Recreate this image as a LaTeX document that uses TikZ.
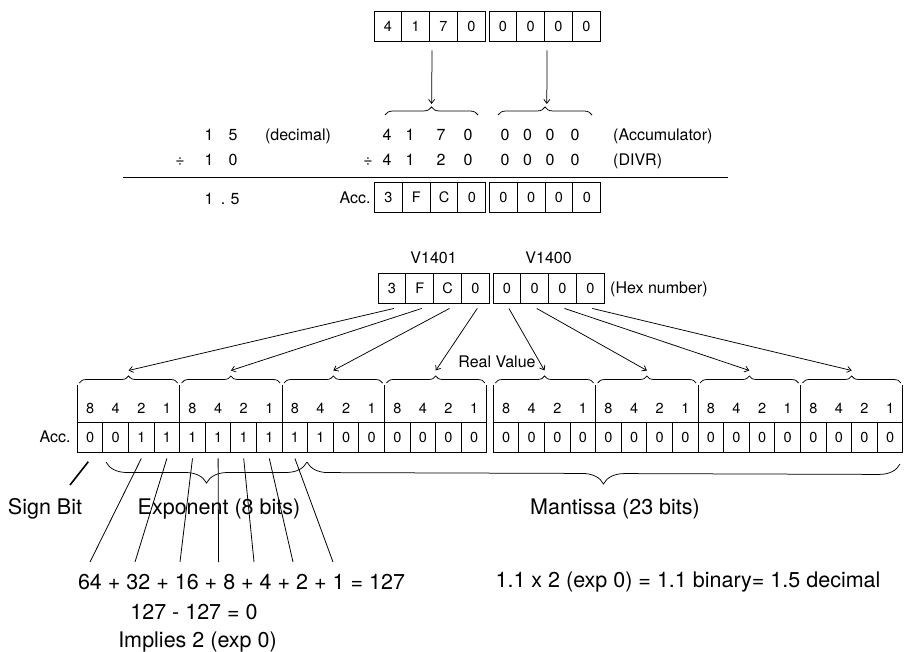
\documentclass[tikz,border=0pt]{standalone}
\usepackage{fontspec}
\setmainfont{TeX Gyre Heros}
\usetikzlibrary{arrows.meta,decorations.pathreplacing,calc}
\begin{document}
\begin{tikzpicture}[x=1pt,y=-1pt,
  cellbox/.style={draw, line width=0.9pt, minimum width=27.8pt, minimum height=30pt, inner sep=0pt, font=\fontsize{14.5}{14}\selectfont},
  bitbox/.style={draw, line width=0.9pt, minimum width=25.6pt, minimum height=30pt, inner sep=0pt, font=\fontsize{14.5}{14}\selectfont},
  wlab/.style={inner sep=0pt, text height=10.4pt, text depth=0pt, font=\fontsize{14.5}{14}\selectfont},
  small/.style={inner sep=0pt, text height=11.5pt, text depth=0pt, font=\fontsize{16}{16}\selectfont},
  big/.style={inner sep=0pt, text height=15.5pt, text depth=0pt, font=\fontsize{21.5}{22}\selectfont},
  arr/.style={line width=0.75pt, -{Straight Barb[length=4pt,width=6pt]}},
  thinline/.style={line width=0.8pt},
  brc/.style={decorate, decoration={brace, amplitude=#1}, line width=0.75pt},
]
\useasboundingbox (0,0) rectangle (904,652);

% ---------- top box ----------
\foreach \v [count=\i] in {4,1,7,0,0,0,0,0}{
  \pgfmathsetmacro\cx{374+13.9+27.8*(\i-1)+(\i>4)*3.8}
  \node[cellbox] (t\i) at (\cx,26) {\v};
}
\draw[brc=8pt] (385,115) -- (478,115);
\draw[brc=8pt] (498,115) -- (592,115);
\coordinate (tt1) at (431.6,104);
\coordinate (tt2) at (546.8,104);
\coordinate (ta1) at ($(t2.south east)+(2,9)$);
\coordinate (ta2) at ($(t6.south east)+(2,9)$);
\draw[arr] (ta1) -- (tt1);
\draw[arr] (ta2) -- (tt2);

% ---------- division rows ----------
\node[small] (r1a) at (209,135) {1};
\node[small] (r1b) at (233,135) {5};
\node[small] (r1c) at (298,135) {(decimal)};
\node[small] (r2d) at (180,160) {÷};
\node[small] (r2a) at (209,160) {1};
\node[small] (r2b) at (233,160) {0};
\node[small] (r2e) at (368,160) {÷};
\foreach \v [count=\i] in {4,1,7,0,0,0,0,0}{
  \pgfmathsetmacro\cx{{387,410,441,468,505,527.5,550,575}[\i-1]}
  \node[small] (p\i) at (\cx,135) {\v};
}
\foreach \v [count=\i] in {4,1,2,0,0,0,0,0}{
  \pgfmathsetmacro\cx{{387,410,441,468,505,527.5,550,575}[\i-1]}
  \node[small] (q\i) at (\cx,160) {\v};
}
\node[small, anchor=west] (accu) at (613,135) {(Accumulator)};
\node[small, anchor=west] (divr) at (613,160) {(DIVR)};
\coordinate (ln1) at (123,177.3);
\coordinate (ln2) at (728,177.3);
\draw[line width=0.9pt] (ln1) -- (ln2);
\node[small] (r3a) at (209,199) {1};
\node[small] (r3b) at (223,199) {.};
\node[small] (r3c) at (235,199) {5};
\node[small] (acc1) at (355,198) {Acc.};
\foreach \v [count=\i] in {3,F,C,0,0,0,0,0}{
  \pgfmathsetmacro\cx{374.5+13.9+27.8*(\i-1)+(\i>4)*3.8}
  \node[cellbox] (a\i) at (\cx,197) {\v};
}

% ---------- hex box ----------
\node[small] (v1) at (433.6,258) {V1401};
\node[small] (v2) at (548.6,258) {V1400};
\foreach \v [count=\i] in {3,F,C,0,0,0,0,0}{
  \pgfmathsetmacro\cx{378+13.9+27.8*(\i-1)+(\i>4)*3.8}
  \node[cellbox] (h\i) at (\cx,288) {\v};
}
\node[small, anchor=west] (hexn) at (610,288) {(Hex number)};

% ---------- bit grid ----------
\foreach \b [count=\k from 0] in {0,0,1,1,1,1,1,1,1,1,0,0,0,0,0,0,0,0,0,0,0,0,0,0,0,0,0,0,0,0,0,0}{
  \pgfmathsetmacro\cx{(\k<16 ? 77.3+25.6*\k : 493.3+25.6*(\k-16)) + 12.8}
  \pgfmathtruncatemacro\w{2^(3-mod(\k,4))}
  \node[bitbox] (b\k) at (\cx,437) {\b};
  \node[wlab] (w\k) at (\cx,408) {\w};
}
\foreach \g in {0,...,7}{
  \pgfmathsetmacro\L{(\g<4 ? 77.3+102.4*\g : 493.3+102.4*(\g-4))}
  \pgfmathsetmacro\R{\L+102.4}
  \pgfmathsetmacro\M{\L+51.2}
  \draw[line width=0.9pt] (\L,385) -- (\L,422);
  \draw[line width=0.9pt] (\R,385) -- (\R,422);
  \draw[brc=7pt] (\L+2,383) -- (\R-2,383);
  \coordinate (gt\g) at (\M,370.5);
}
\node[small] (acc2) at (55,437) {Acc.};
\node[small] (rv) at (497,362) {Real Value};

% arrows from hex cells to groups
\foreach \i [count=\g from 0] in {1,...,8}{
  \draw[arr] ([xshift=2pt,yshift=-5pt]h\i.south) -- (gt\g);
}

% ---------- lower part ----------
\draw[brc=21pt] (307,462) -- (106,462);
\draw[brc=21pt] (900,464) -- (307,462);
\coordinate (sb1) at (88.3,461.7);
\coordinate (sb2) at (70,485);
\draw[line width=1.6pt] (sb1) -- (sb2);

\node[big] (sign) at (45,507) {Sign Bit};
\node[big] (expo) at (219,507) {Exponent (8 bits)};
\node[big] (mant) at (615,507) {Mantissa (23 bits)};

\foreach \k/\ex in {2/90,3/135,4/180,5/218.6,6/254,7/293,8/333}{
  \coordinate (e\k) at (\ex,562);
  \draw[thinline] ([yshift=-6pt]b\k.south) -- (e\k);
}

\node[big] (sum) at (241.5,582) {64 + 32 + 16 + 8 + 4 + 2 + 1 = 127};
\node[big] (diff) at (194,612) {127 - 127 = 0};
\node[big] (impl) at (197.5,640) {Implies 2 (exp 0)};
\node[big] (res) at (688,580) {1.1 x 2 (exp 0) = 1.1 binary= 1.5 decimal};
\end{tikzpicture}
\end{document}
